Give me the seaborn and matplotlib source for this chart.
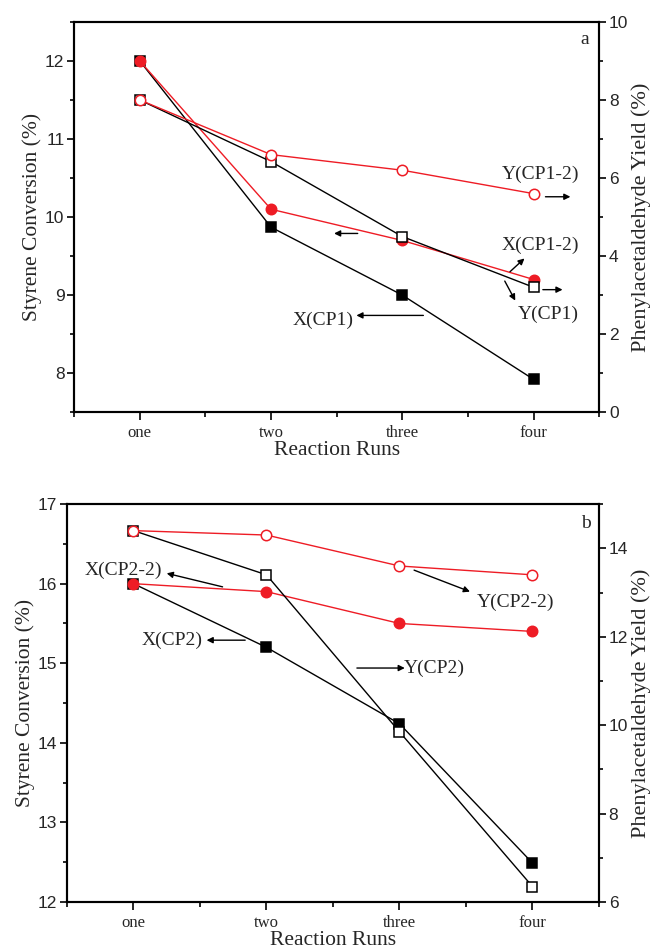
import numpy as np
import matplotlib
matplotlib.use("Agg")
import matplotlib.pyplot as plt
from matplotlib.ticker import AutoMinorLocator
import seaborn as sns

# run labels on the x axis
runs = ["one", "two", "three", "four"]

# panel a: conversion (left axis) and yield (right axis)
x_cp1 = [12.0, 9.87, 9.0, 7.92]
x_cp1_2 = [12.0, 10.1, 9.7, 9.2]
y_cp1 = [8.0, 6.42, 4.5, 3.2]
y_cp1_2 = [8.0, 6.6, 6.2, 5.6]

# panel b
x_cp2 = [16.0, 15.2, 14.24, 12.49]
x_cp2_2 = [16.0, 15.9, 15.5, 15.4]
y_cp2 = [14.4, 13.4, 9.85, 6.35]
y_cp2_2 = [14.4, 14.3, 13.6, 13.4]

RED = "#ee1c25"

sns.set_style("ticks")
plt.rcParams["font.family"] = ["Liberation Serif", "DejaVu Serif"]
plt.rcParams["axes.linewidth"] = 1.5

fig = plt.figure(figsize=(6.5, 9.52), dpi=100)
pos = np.arange(len(runs))


def series(ax, vals, color, marker, filled, ms):
    sns.lineplot(x=pos, y=vals, ax=ax, color=color, linewidth=1.0,
                 marker=marker, markersize=ms,
                 markerfacecolor=color if filled else "white",
                 markeredgecolor=color, markeredgewidth=1.1,
                 legend=False)


def style_axes(ax, ax2, left_lim, left_ticks, right_lim, right_ticks):
    ax.set_xlim(-0.5, len(runs) - 0.5)
    ax.set_xticks(pos, labels=runs)
    ax.set_xticks(np.arange(-0.5, len(runs), 1.0), minor=True)
    ax.set_ylim(*left_lim)
    ax.set_yticks(left_ticks, labels=[str(v) for v in left_ticks],
                  fontfamily="Liberation Sans")
    ax.yaxis.set_minor_locator(AutoMinorLocator(2))
    ax2.set_ylim(*right_lim)
    ax2.set_yticks(right_ticks, labels=[str(v) for v in right_ticks],
                   fontfamily="Liberation Sans")
    ax2.yaxis.set_minor_locator(AutoMinorLocator(2))

    ax.tick_params(axis="x", which="major", direction="out", length=5.5,
                   width=1.4, labelsize=12, pad=3.5)
    ax.tick_params(axis="x", which="minor", direction="out", length=3.5,
                   width=1.4)
    ax.tick_params(axis="y", which="major", direction="out", length=5,
                   width=1.4, labelsize=12.5, pad=2)
    ax.tick_params(axis="y", which="minor", direction="out", length=3,
                   width=1.4)
    ax2.tick_params(axis="y", which="major", direction="out", length=5,
                    width=1.4, labelsize=12.5, pad=2)
    ax2.tick_params(axis="y", which="minor", direction="out", length=3,
                    width=1.4)
    for a in (ax, ax2):
        for s in a.spines.values():
            s.set_visible(True)
            s.set_linewidth(1.5)
            s.set_color("black")

    ax.set_xlabel("Reaction Runs", fontsize=15.5, labelpad=0)
    ax.set_ylabel("Styrene Conversion (%)", fontsize=15.5, labelpad=2)
    ax2.set_ylabel("Phenylacetaldehyde Yield (%)", fontsize=16, labelpad=2)


def arrow(ax, tail, head):
    ax.annotate("", xy=head, xytext=tail,
                arrowprops=dict(arrowstyle="-|>", color="black", lw=1.0,
                                mutation_scale=9, shrinkA=0, shrinkB=0))


# ---------------- panel a ----------------
ax = fig.add_axes([0.114, 0.567, 0.808, 0.410])
ax2 = ax.twinx()
series(ax, x_cp1, "black", "s", True, 6.5)
series(ax, x_cp1_2, RED, "o", True, 7.5)
series(ax2, y_cp1, "black", "s", False, 6.5)
series(ax2, y_cp1_2, RED, "o", False, 7.5)
style_axes(ax, ax2, (7.5, 12.5), [8, 9, 10, 11, 12], (0, 10), [0, 2, 4, 6, 8, 10])

ax.text(3.05, 10.55, "Y(CP1-2)", fontsize=14, ha="center", va="center")
arrow(ax, (3.09, 10.26), (3.28, 10.26))
ax.text(3.05, 9.64, "X(CP1-2)", fontsize=14, ha="center", va="center")
arrow(ax, (2.82, 9.30), (2.93, 9.47))
ax.text(3.11, 8.76, "Y(CP1)", fontsize=14, ha="center", va="center")
arrow(ax, (2.78, 9.18), (2.86, 8.93))
arrow(ax, (3.07, 9.07), (3.22, 9.07))
ax.text(1.40, 8.68, "X(CP1)", fontsize=14, ha="center", va="center")
arrow(ax, (2.16, 8.74), (1.65, 8.74))
arrow(ax, (1.66, 9.79), (1.48, 9.79))
ax.text(3.39, 12.27, "a", fontsize=14, ha="center", va="center")

# ---------------- panel b ----------------
bx = fig.add_axes([0.103, 0.0525, 0.8185, 0.418])
bx2 = bx.twinx()
series(bx, x_cp2, "black", "s", True, 6.5)
series(bx, x_cp2_2, RED, "o", True, 7.5)
series(bx2, y_cp2, "black", "s", False, 6.5)
series(bx2, y_cp2_2, RED, "o", False, 7.5)
style_axes(bx, bx2, (12, 17), [12, 13, 14, 15, 16, 17], (6, 15), [6, 8, 10, 12, 14])

bx.text(-0.075, 16.17, "X(CP2-2)", fontsize=14, ha="center", va="center")
arrow(bx, (0.67, 15.96), (0.25, 16.13))
bx.text(0.29, 15.29, "X(CP2)", fontsize=14, ha="center", va="center")
arrow(bx, (0.84, 15.29), (0.55, 15.29))
bx.text(2.26, 14.94, "Y(CP2)", fontsize=14, ha="center", va="center")
arrow(bx, (1.68, 14.94), (2.04, 14.94))
bx.text(2.87, 15.76, "Y(CP2-2)", fontsize=14, ha="center", va="center")
arrow(bx, (2.11, 16.17), (2.53, 15.90))
bx.text(3.40, 16.76, "b", fontsize=14, ha="center", va="center")

fig.savefig("out.png", dpi=100)
